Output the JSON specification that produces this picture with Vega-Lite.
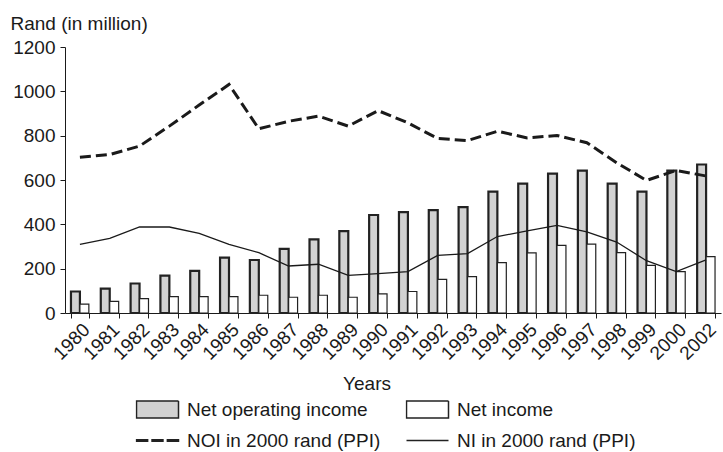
{
  "$schema": "https://vega.github.io/schema/vega-lite/v6.json",
  "width": 656,
  "height": 266,
  "autosize": "none",
  "padding": {"left": 65, "top": 47, "right": 2, "bottom": 139},
  "background": "white",
  "config": {
    "view": {"stroke": null},
    "font": "Liberation Sans",
    "axis": {
      "labelFont": "Liberation Sans",
      "titleFont": "Liberation Sans",
      "labelFontSize": 19,
      "titleFontSize": 19,
      "titleFontWeight": "normal",
      "labelColor": "#1a1a1a",
      "titleColor": "#1a1a1a",
      "domainColor": "#1a1a1a",
      "tickColor": "#1a1a1a",
      "tickSize": 5,
      "grid": false
    },
    "legend": {
      "labelFont": "Liberation Sans",
      "labelColor": "#1a1a1a",
      "symbolFillColor": "transparent",
      "symbolStrokeColor": "#222222"
    }
  },
  "data": {
    "values": [
      {"year": 1980, "series": "Net operating income", "value": 97},
      {"year": 1981, "series": "Net operating income", "value": 110},
      {"year": 1982, "series": "Net operating income", "value": 133},
      {"year": 1983, "series": "Net operating income", "value": 169},
      {"year": 1984, "series": "Net operating income", "value": 190},
      {"year": 1985, "series": "Net operating income", "value": 250},
      {"year": 1986, "series": "Net operating income", "value": 239},
      {"year": 1987, "series": "Net operating income", "value": 289},
      {"year": 1988, "series": "Net operating income", "value": 332},
      {"year": 1989, "series": "Net operating income", "value": 369},
      {"year": 1990, "series": "Net operating income", "value": 442},
      {"year": 1991, "series": "Net operating income", "value": 455},
      {"year": 1992, "series": "Net operating income", "value": 464},
      {"year": 1993, "series": "Net operating income", "value": 478},
      {"year": 1994, "series": "Net operating income", "value": 548},
      {"year": 1995, "series": "Net operating income", "value": 584},
      {"year": 1996, "series": "Net operating income", "value": 629},
      {"year": 1997, "series": "Net operating income", "value": 642},
      {"year": 1998, "series": "Net operating income", "value": 584},
      {"year": 1999, "series": "Net operating income", "value": 548},
      {"year": 2000, "series": "Net operating income", "value": 642},
      {"year": 2002, "series": "Net operating income", "value": 670},
      {"year": 1980, "series": "Net income", "value": 40},
      {"year": 1981, "series": "Net income", "value": 52},
      {"year": 1982, "series": "Net income", "value": 65},
      {"year": 1983, "series": "Net income", "value": 74},
      {"year": 1984, "series": "Net income", "value": 74},
      {"year": 1985, "series": "Net income", "value": 74},
      {"year": 1986, "series": "Net income", "value": 80},
      {"year": 1987, "series": "Net income", "value": 71},
      {"year": 1988, "series": "Net income", "value": 80},
      {"year": 1989, "series": "Net income", "value": 71},
      {"year": 1990, "series": "Net income", "value": 86},
      {"year": 1991, "series": "Net income", "value": 97},
      {"year": 1992, "series": "Net income", "value": 152},
      {"year": 1993, "series": "Net income", "value": 164},
      {"year": 1994, "series": "Net income", "value": 227},
      {"year": 1995, "series": "Net income", "value": 271},
      {"year": 1996, "series": "Net income", "value": 305},
      {"year": 1997, "series": "Net income", "value": 311},
      {"year": 1998, "series": "Net income", "value": 272},
      {"year": 1999, "series": "Net income", "value": 215},
      {"year": 2000, "series": "Net income", "value": 187},
      {"year": 2002, "series": "Net income", "value": 254},
      {"year": 1980, "series": "NOI in 2000 rand (PPI)", "value": 703},
      {"year": 1981, "series": "NOI in 2000 rand (PPI)", "value": 715},
      {"year": 1982, "series": "NOI in 2000 rand (PPI)", "value": 753},
      {"year": 1983, "series": "NOI in 2000 rand (PPI)", "value": 843},
      {"year": 1984, "series": "NOI in 2000 rand (PPI)", "value": 938},
      {"year": 1985, "series": "NOI in 2000 rand (PPI)", "value": 1031},
      {"year": 1986, "series": "NOI in 2000 rand (PPI)", "value": 831},
      {"year": 1987, "series": "NOI in 2000 rand (PPI)", "value": 865},
      {"year": 1988, "series": "NOI in 2000 rand (PPI)", "value": 888},
      {"year": 1989, "series": "NOI in 2000 rand (PPI)", "value": 843},
      {"year": 1990, "series": "NOI in 2000 rand (PPI)", "value": 913},
      {"year": 1991, "series": "NOI in 2000 rand (PPI)", "value": 858},
      {"year": 1992, "series": "NOI in 2000 rand (PPI)", "value": 787},
      {"year": 1993, "series": "NOI in 2000 rand (PPI)", "value": 778},
      {"year": 1994, "series": "NOI in 2000 rand (PPI)", "value": 820},
      {"year": 1995, "series": "NOI in 2000 rand (PPI)", "value": 790},
      {"year": 1996, "series": "NOI in 2000 rand (PPI)", "value": 801},
      {"year": 1997, "series": "NOI in 2000 rand (PPI)", "value": 768},
      {"year": 1998, "series": "NOI in 2000 rand (PPI)", "value": 678},
      {"year": 1999, "series": "NOI in 2000 rand (PPI)", "value": 598},
      {"year": 2000, "series": "NOI in 2000 rand (PPI)", "value": 643},
      {"year": 2002, "series": "NOI in 2000 rand (PPI)", "value": 618},
      {"year": 1980, "series": "NI in 2000 rand (PPI)", "value": 310},
      {"year": 1981, "series": "NI in 2000 rand (PPI)", "value": 337},
      {"year": 1982, "series": "NI in 2000 rand (PPI)", "value": 388},
      {"year": 1983, "series": "NI in 2000 rand (PPI)", "value": 388},
      {"year": 1984, "series": "NI in 2000 rand (PPI)", "value": 359},
      {"year": 1985, "series": "NI in 2000 rand (PPI)", "value": 310},
      {"year": 1986, "series": "NI in 2000 rand (PPI)", "value": 272},
      {"year": 1987, "series": "NI in 2000 rand (PPI)", "value": 212},
      {"year": 1988, "series": "NI in 2000 rand (PPI)", "value": 220},
      {"year": 1989, "series": "NI in 2000 rand (PPI)", "value": 170},
      {"year": 1990, "series": "NI in 2000 rand (PPI)", "value": 178},
      {"year": 1991, "series": "NI in 2000 rand (PPI)", "value": 187},
      {"year": 1992, "series": "NI in 2000 rand (PPI)", "value": 260},
      {"year": 1993, "series": "NI in 2000 rand (PPI)", "value": 268},
      {"year": 1994, "series": "NI in 2000 rand (PPI)", "value": 345},
      {"year": 1995, "series": "NI in 2000 rand (PPI)", "value": 370},
      {"year": 1996, "series": "NI in 2000 rand (PPI)", "value": 395},
      {"year": 1997, "series": "NI in 2000 rand (PPI)", "value": 366},
      {"year": 1998, "series": "NI in 2000 rand (PPI)", "value": 320},
      {"year": 1999, "series": "NI in 2000 rand (PPI)", "value": 236},
      {"year": 2000, "series": "NI in 2000 rand (PPI)", "value": 187},
      {"year": 2002, "series": "NI in 2000 rand (PPI)", "value": 240}
    ]
  },
  "encoding": {
    "x": {
      "field": "year",
      "type": "ordinal",
      "scale": {"paddingInner": 0.4, "paddingOuter": 0.2},
      "axis": {
        "title": "Years",
        "titleX": 301.5,
        "titleY": 76,
        "titleBaseline": "alphabetic",
        "labelAngle": -45,
        "labelPadding": 2,
        "tickBand": "extent"
      }
    },
    "y": {
      "field": "value",
      "type": "quantitative",
      "scale": {"domain": [0, 1200]},
      "axis": {
        "title": "Rand (in million)",
        "titleAngle": 0,
        "titleAlign": "left",
        "titleBaseline": "alphabetic",
        "titleX": -55,
        "titleY": -17.5,
        "values": [0, 200, 400, 600, 800, 1000, 1200],
        "format": "d",
        "labelPadding": 5
      }
    }
  },
  "layer": [
    {
      "transform": [{"filter": "datum.series == 'Net operating income'"}],
      "mark": {"type": "bar", "fill": "#d2d2d2", "stroke": "#222222", "strokeWidth": 2.2},
      "encoding": {
        "xOffset": {"field": "series", "type": "nominal", "scale": {"domain": ["Net operating income", "Net income"], "paddingInner": 0, "paddingOuter": 0}}
      }
    },
    {
      "transform": [{"filter": "datum.series == 'Net income'"}],
      "mark": {"type": "bar", "fill": "#ffffff", "stroke": "#222222", "strokeWidth": 1.2},
      "encoding": {
        "xOffset": {"field": "series", "type": "nominal", "scale": {"domain": ["Net operating income", "Net income"], "paddingInner": 0, "paddingOuter": 0}}
      }
    },
    {
      "transform": [{"filter": "datum.series == 'NOI in 2000 rand (PPI)'"}],
      "mark": {"type": "line", "stroke": "#1a1a1a", "strokeWidth": 3, "strokeDash": [11, 5]},
      "encoding": {}
    },
    {
      "transform": [{"filter": "datum.series == 'NI in 2000 rand (PPI)'"}],
      "mark": {"type": "line", "stroke": "#1a1a1a", "strokeWidth": 1.3},
      "encoding": {}
    },
    {
      "mark": {"type": "point", "opacity": 0, "filled": true},
      "encoding": {
        "fill": {
          "field": "series",
          "type": "nominal",
          "scale": {"domain": ["Net operating income", "Net income", "NOI in 2000 rand (PPI)", "NI in 2000 rand (PPI)"], "range": ["#d2d2d2", "#ffffff", "#1a1a1a", "transparent"]},
          "legend": {
            "title": null,
            "orient": "none",
            "direction": "horizontal",
            "legendX": 70.5,
            "legendY": 352.5,
            "columns": 2,
            "columnPadding": 25,
            "rowPadding": 11,
            "padding": 0,
            "symbolSize": 1764,
            "clipHeight": 20,
            "labelOffset": 7.5,
            "labelFontSize": 19,
            "labelLimit": 400,
            "symbolOpacity": 1,
            "symbolStrokeWidth": 1.5
          }
        },
        "strokeDash": {
          "field": "series",
          "type": "nominal",
          "scale": {"domain": ["Net operating income", "Net income", "NOI in 2000 rand (PPI)", "NI in 2000 rand (PPI)"], "range": [[1, 0], [1, 0], [1, 0], [1, 0]]}
        },
        "shape": {
          "field": "series",
          "type": "nominal",
          "scale": {"domain": ["Net operating income", "Net income", "NOI in 2000 rand (PPI)", "NI in 2000 rand (PPI)"], "range": ["M-1,-0.4H1V0.4H-1Z", "M-1,-0.4H1V0.4H-1Z", "M-1,-0.035H-0.47V0.035H-1Z M-0.26,-0.035H0.26V0.035H-0.26Z M0.47,-0.035H1V0.035H0.47Z", "M-1,0H1"]}
        }
      }
    }
  ]
}
